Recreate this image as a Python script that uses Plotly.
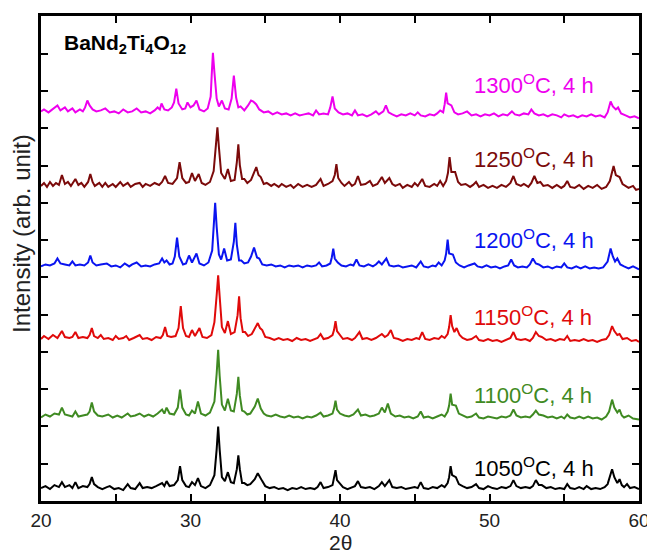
import plotly.graph_objects as go

# ---------------- data (2θ, intensity above own baseline, arb. units) ----------------
pattern_1050 = [(20.0,1),(20.3,3),(20.6,0),(20.9,4),(21.2,2),(21.4,7),(21.6,2),(21.9,4),(22.1,1),(22.3,7),(22.5,1),(22.8,3),(23.1,2),(23.25,5),(23.4,12),(23.55,5),(23.8,2),(24.1,0),(24.4,2),(24.6,3),(24.9,0),(25.2,1),(25.5,-1),(25.8,5),(26.0,1),(26.3,0),(26.6,6),(26.8,1),(27.1,2),(27.4,1),(27.7,3),(28.1,6),(28.25,3),(28.4,8),(28.6,3),(28.9,4),(29.15,9),(29.3,23),(29.45,9),(29.7,3),(29.9,2),(30.1,7),(30.3,4),(30.5,11),(30.7,3),(31.0,1),(31.3,4),(31.6,14),(31.75,40),(31.85,63),(31.95,40),(32.1,12),(32.3,8),(32.5,17),(32.7,7),(32.9,6),(33.1,20),(33.2,34),(33.3,20),(33.45,6),(33.6,6),(33.8,4),(34.0,5),(34.3,10),(34.5,16),(34.7,10),(34.8,8),(35.0,3),(35.3,1),(35.6,2),(35.9,0),(36.2,1),(36.5,-1),(36.8,1),(37.1,0),(37.4,2),(37.7,0),(38.0,1),(38.3,0),(38.5,2),(38.7,7),(38.9,1),(39.2,2),(39.5,4),(39.6,10),(39.7,19),(39.8,9),(40.0,6),(40.2,2),(40.5,0),(40.8,2),(41.0,3),(41.2,8),(41.4,2),(41.7,1),(42.0,2),(42.3,0),(42.6,3),(42.8,7),(43.0,3),(43.3,9),(43.5,2),(43.8,1),(44.1,2),(44.4,0),(44.7,1),(45.0,2),(45.2,1),(45.4,7),(45.6,1),(45.9,0),(46.2,2),(46.5,1),(46.8,4),(47.0,2),(47.2,6),(47.3,12),(47.4,23),(47.5,14),(47.75,12),(47.95,5),(48.2,3),(48.5,1),(48.8,2),(49.1,5),(49.3,1),(49.6,0),(49.9,3),(50.2,1),(50.5,0),(50.8,2),(51.1,1),(51.4,3),(51.6,9),(51.8,3),(52.1,1),(52.4,2),(52.7,1),(52.9,3),(53.1,9),(53.3,4),(53.5,4),(53.8,1),(54.1,2),(54.4,0),(54.7,1),(55.0,0),(55.2,5),(55.4,1),(55.7,0),(56.0,2),(56.3,0),(56.5,3),(56.8,0),(57.1,1),(57.4,0),(57.7,2),(57.9,5),(58.1,14),(58.2,20),(58.35,12),(58.55,6),(58.7,10),(58.85,4),(59.0,2),(59.2,5),(59.4,1),(59.7,2),(60.0,0)]

pattern_1100 = [(20.0,0),(20.3,3),(20.6,1),(20.9,4),(21.2,3),(21.4,10),(21.6,3),(21.9,2),(22.1,1),(22.3,6),(22.5,1),(22.8,2),(23.1,3),(23.25,6),(23.4,15),(23.55,6),(23.8,2),(24.1,1),(24.3,2),(24.5,3),(24.8,0),(25.1,2),(25.4,0),(25.8,4),(26.0,1),(26.3,2),(26.6,4),(26.9,1),(27.2,3),(27.5,1),(27.8,4),(28.1,8),(28.25,4),(28.4,10),(28.6,4),(28.9,3),(29.15,10),(29.3,28),(29.45,10),(29.7,3),(29.9,2),(30.1,7),(30.3,4),(30.5,16),(30.7,4),(31.0,2),(31.3,5),(31.6,16),(31.75,44),(31.85,68),(31.95,42),(32.1,13),(32.3,7),(32.5,19),(32.7,7),(32.9,6),(33.1,24),(33.2,41),(33.3,22),(33.45,7),(33.6,6),(33.8,3),(34.0,4),(34.3,11),(34.5,19),(34.7,9),(34.9,4),(35.1,2),(35.4,1),(35.7,3),(36.0,1),(36.3,0),(36.6,2),(36.9,0),(37.2,1),(37.5,-1),(37.8,1),(38.1,0),(38.4,2),(38.7,5),(38.9,1),(39.2,2),(39.5,4),(39.6,9),(39.7,17),(39.8,8),(40.0,4),(40.3,2),(40.6,1),(40.9,3),(41.2,8),(41.4,2),(41.7,3),(42.0,1),(42.3,2),(42.6,4),(42.8,10),(43.0,5),(43.2,14),(43.4,4),(43.7,1),(44.0,2),(44.3,0),(44.6,1),(44.9,-1),(45.2,1),(45.4,6),(45.6,0),(45.9,1),(46.2,-1),(46.5,1),(46.8,3),(47.0,1),(47.2,6),(47.3,12),(47.4,24),(47.5,13),(47.75,12),(47.95,4),(48.2,2),(48.5,0),(48.8,1),(49.1,4),(49.3,0),(49.6,-1),(49.9,1),(50.2,0),(50.5,-1),(50.8,1),(51.1,0),(51.4,2),(51.6,8),(51.8,2),(52.1,0),(52.4,1),(52.7,0),(52.9,3),(53.1,7),(53.3,3),(53.6,2),(53.9,0),(54.2,1),(54.5,-1),(54.8,1),(55.0,-1),(55.2,3),(55.4,0),(55.7,-1),(56.0,1),(56.3,-1),(56.6,1),(56.9,-1),(57.2,0),(57.5,-2),(57.8,1),(58.0,6),(58.2,18),(58.35,10),(58.55,5),(58.7,8),(58.85,2),(59.0,0),(59.3,2),(59.6,-1),(60.0,-2)]

pattern_1150 = [(20.0,1),(20.2,4),(20.5,1),(20.8,5),(21.1,2),(21.4,9),(21.6,3),(21.9,2),(22.1,3),(22.3,8),(22.5,2),(22.8,3),(23.1,2),(23.25,5),(23.4,12),(23.55,4),(23.8,2),(24.0,5),(24.2,1),(24.5,2),(24.8,0),(25.0,4),(25.2,1),(25.5,2),(25.7,4),(25.9,0),(26.2,2),(26.6,5),(26.8,1),(27.1,2),(27.4,0),(27.7,3),(28.0,2),(28.15,5),(28.3,13),(28.45,4),(28.7,3),(29.0,4),(29.2,12),(29.35,34),(29.5,12),(29.7,4),(29.9,3),(30.1,10),(30.3,4),(30.6,12),(30.8,3),(31.1,2),(31.4,5),(31.6,18),(31.75,45),(31.85,65),(31.95,44),(32.1,13),(32.3,7),(32.5,19),(32.7,6),(32.95,8),(33.15,25),(33.25,44),(33.35,22),(33.5,8),(33.65,8),(33.85,4),(34.1,6),(34.3,12),(34.5,17),(34.65,12),(34.8,10),(35.0,3),(35.3,2),(35.6,0),(35.9,2),(36.2,0),(36.5,1),(36.8,-1),(37.1,2),(37.4,0),(37.7,1),(38.0,-1),(38.3,1),(38.5,2),(38.7,6),(38.9,1),(39.2,2),(39.5,5),(39.6,10),(39.7,19),(39.8,9),(40.0,5),(40.2,1),(40.5,2),(40.8,0),(41.0,2),(41.3,8),(41.5,1),(41.8,2),(42.1,0),(42.4,2),(42.8,6),(43.0,3),(43.2,5),(43.4,10),(43.6,2),(43.9,1),(44.2,-1),(44.5,1),(44.8,0),(45.1,2),(45.3,1),(45.5,8),(45.7,1),(46.0,0),(46.3,2),(46.6,1),(46.8,4),(47.0,2),(47.2,6),(47.3,13),(47.4,25),(47.5,14),(47.65,8),(47.8,12),(48.0,5),(48.2,2),(48.5,0),(48.8,1),(49.1,4),(49.3,0),(49.6,-1),(49.9,1),(50.2,-1),(50.5,0),(50.8,-2),(51.1,0),(51.4,2),(51.6,8),(51.8,1),(52.1,0),(52.4,1),(52.7,-1),(52.9,2),(53.1,8),(53.3,4),(53.5,3),(53.8,0),(54.1,1),(54.4,-1),(54.7,1),(55.0,0),(55.2,4),(55.4,-1),(55.7,0),(56.0,-1),(56.3,1),(56.6,-1),(56.9,0),(57.2,-2),(57.5,0),(57.8,1),(58.0,5),(58.2,14),(58.35,9),(58.55,5),(58.7,6),(58.9,1),(59.2,2),(59.5,-1),(59.8,0),(60.0,-2)]

pattern_1200 = [(20.0,0),(20.3,2),(20.6,1),(20.9,3),(21.1,8),(21.3,3),(21.6,2),(21.9,1),(22.1,5),(22.3,1),(22.6,2),(22.9,1),(23.15,4),(23.3,11),(23.45,4),(23.7,1),(24.0,2),(24.4,3),(24.7,0),(25.0,1),(25.3,-1),(25.6,3),(25.9,0),(26.1,2),(26.4,4),(26.7,0),(27.0,1),(27.3,0),(27.6,2),(27.9,3),(28.1,8),(28.25,4),(28.4,6),(28.6,2),(28.8,3),(28.95,10),(29.1,29),(29.25,10),(29.5,2),(29.7,3),(29.9,11),(30.1,4),(30.4,13),(30.6,3),(30.9,1),(31.2,4),(31.45,16),(31.55,42),(31.65,64),(31.75,40),(31.9,12),(32.05,7),(32.25,18),(32.45,6),(32.7,7),(32.9,25),(33.0,44),(33.1,22),(33.25,6),(33.4,6),(33.6,3),(33.85,4),(34.05,10),(34.25,19),(34.45,9),(34.6,8),(34.8,2),(35.1,1),(35.4,2),(35.7,0),(36.0,1),(36.3,-1),(36.6,1),(36.9,0),(37.2,1),(37.5,-1),(37.8,1),(38.1,0),(38.4,1),(38.6,4),(38.8,0),(39.1,1),(39.35,3),(39.45,9),(39.55,18),(39.65,8),(39.85,4),(40.1,1),(40.4,0),(40.7,2),(40.9,1),(41.1,7),(41.3,1),(41.6,0),(41.9,2),(42.2,0),(42.4,2),(42.6,5),(42.8,2),(43.1,8),(43.3,1),(43.6,0),(43.9,1),(44.2,-1),(44.5,0),(44.8,1),(45.1,-1),(45.4,5),(45.6,0),(45.9,-1),(46.2,1),(46.4,0),(46.6,4),(46.8,1),(47.0,6),(47.1,13),(47.2,27),(47.3,13),(47.55,12),(47.75,4),(48.0,1),(48.3,-1),(48.6,1),(49.0,3),(49.2,0),(49.5,-1),(49.8,1),(50.1,-1),(50.4,0),(50.7,-2),(51.0,0),(51.25,1),(51.45,7),(51.65,1),(51.9,-1),(52.2,0),(52.5,-1),(52.7,2),(52.9,8),(53.1,3),(53.3,2),(53.6,-1),(53.9,0),(54.2,-2),(54.5,0),(54.8,-1),(55.0,3),(55.2,-1),(55.5,-2),(55.8,0),(56.1,-2),(56.4,0),(56.7,-2),(57.0,-1),(57.3,-2),(57.6,-1),(57.9,5),(58.1,18),(58.25,10),(58.4,5),(58.55,8),(58.75,2),(59.0,0),(59.3,-2),(59.6,0),(60.0,-3)]

pattern_1250 = [(20.0,1),(20.2,4),(20.4,0),(20.6,5),(20.8,1),(21.0,4),(21.2,2),(21.4,12),(21.6,3),(21.8,5),(22.0,1),(22.3,8),(22.5,2),(22.7,4),(22.9,0),(23.15,5),(23.3,13),(23.45,5),(23.6,1),(23.9,4),(24.1,0),(24.3,4),(24.5,0),(24.8,3),(25.0,0),(25.3,5),(25.5,1),(25.8,4),(26.0,0),(26.3,3),(26.6,4),(26.8,0),(27.0,3),(27.3,1),(27.6,4),(27.9,2),(28.1,5),(28.3,11),(28.5,4),(28.8,3),(29.1,9),(29.27,25),(29.45,9),(29.7,4),(29.9,5),(30.1,14),(30.3,6),(30.55,13),(30.75,4),(31.0,2),(31.3,5),(31.55,16),(31.7,42),(31.8,60),(31.9,40),(32.05,14),(32.3,8),(32.5,18),(32.7,6),(32.95,7),(33.1,25),(33.2,43),(33.3,22),(33.45,8),(33.6,8),(33.8,4),(34.05,7),(34.25,14),(34.4,20),(34.55,12),(34.7,10),(34.9,3),(35.1,4),(35.4,1),(35.6,3),(35.9,0),(36.1,3),(36.4,0),(36.7,2),(36.9,-1),(37.2,3),(37.5,0),(37.8,2),(38.1,0),(38.4,2),(38.7,8),(38.9,1),(39.2,3),(39.5,6),(39.65,12),(39.76,23),(39.88,9),(40.1,4),(40.3,1),(40.6,5),(40.8,1),(41.0,3),(41.2,11),(41.4,2),(41.7,3),(42.0,6),(42.2,1),(42.5,3),(42.8,10),(43.0,4),(43.3,9),(43.5,3),(43.7,1),(44.0,3),(44.2,-1),(44.5,2),(44.8,0),(45.0,4),(45.2,1),(45.5,8),(45.7,1),(46.0,0),(46.3,3),(46.5,1),(46.7,6),(46.9,1),(47.1,6),(47.22,14),(47.33,30),(47.45,15),(47.7,15),(47.9,5),(48.1,2),(48.4,3),(48.7,0),(48.9,2),(49.1,5),(49.3,0),(49.6,2),(49.9,-1),(50.2,1),(50.5,-1),(50.8,2),(51.1,0),(51.4,4),(51.6,11),(51.8,3),(52.1,1),(52.3,3),(52.6,0),(52.8,4),(53.0,11),(53.2,4),(53.4,5),(53.6,1),(53.9,2),(54.2,-1),(54.5,2),(54.8,-1),(55.0,1),(55.2,6),(55.4,0),(55.7,-1),(56.0,2),(56.3,-2),(56.6,1),(56.9,-1),(57.2,2),(57.5,-2),(57.8,0),(58.05,6),(58.15,12),(58.3,21),(58.45,12),(58.7,10),(58.9,3),(59.1,1),(59.3,-1),(59.6,1),(59.8,-3),(60.0,-2)]

pattern_1300 = [(20.0,1),(20.2,3),(20.5,0),(20.8,4),(21.1,7),(21.3,2),(21.6,5),(21.8,1),(22.1,4),(22.3,0),(22.6,3),(22.8,1),(22.95,5),(23.1,12),(23.25,7),(23.45,3),(23.7,1),(24.0,2),(24.3,4),(24.6,0),(24.9,1),(25.2,-1),(25.5,3),(25.8,0),(26.1,1),(26.4,4),(26.7,0),(27.0,1),(27.3,-1),(27.6,2),(27.8,5),(27.95,3),(28.06,9),(28.25,3),(28.5,2),(28.75,5),(28.9,10),(29.05,24),(29.2,9),(29.45,3),(29.65,4),(29.8,10),(30.0,5),(30.2,7),(30.4,12),(30.6,3),(30.9,1),(31.15,4),(31.35,16),(31.42,38),(31.5,60),(31.6,40),(31.75,14),(31.9,6),(32.1,12),(32.3,4),(32.55,3),(32.75,14),(32.9,37),(33.05,15),(33.2,5),(33.35,6),(33.6,2),(33.85,7),(34.05,12),(34.2,11),(34.4,8),(34.6,3),(34.9,0),(35.2,1),(35.5,-2),(35.8,0),(36.1,-2),(36.4,-1),(36.7,-3),(37.0,-1),(37.3,-3),(37.6,-2),(37.9,-1),(38.2,-3),(38.4,2),(38.6,-2),(38.9,-1),(39.2,-2),(39.35,5),(39.5,16),(39.65,4),(39.9,0),(40.2,-2),(40.5,-1),(40.8,-3),(41.0,2),(41.2,-3),(41.5,-2),(41.8,-4),(42.1,-2),(42.4,1),(42.6,-2),(42.9,1),(43.07,7),(43.25,0),(43.5,-2),(43.8,-4),(44.1,-2),(44.4,-3),(44.7,-1),(45.0,-3),(45.2,0),(45.4,-3),(45.7,-4),(46.0,-2),(46.3,-3),(46.5,-1),(46.7,2),(46.9,0),(47.0,8),(47.1,20),(47.2,9),(47.45,7),(47.65,0),(47.9,-2),(48.2,-1),(48.5,1),(48.8,-3),(49.1,-2),(49.4,-4),(49.7,-2),(50.0,-3),(50.3,-1),(50.6,-4),(50.9,-2),(51.2,-3),(51.5,1),(51.7,-2),(52.0,-3),(52.3,-1),(52.6,-2),(52.8,3),(53.0,-1),(53.3,-3),(53.6,-2),(53.9,-4),(54.2,-2),(54.5,-3),(54.8,-5),(55.0,-2),(55.3,-4),(55.6,-3),(55.9,-5),(56.2,-3),(56.5,-4),(56.8,-2),(57.1,-4),(57.4,-3),(57.7,-5),(57.9,0),(58.1,11),(58.25,6),(58.45,3),(58.6,5),(58.8,-1),(59.1,-3),(59.4,-5),(59.7,-4),(60.0,-6)]

series_labels = ["1050", "1100", "1150", "1200", "1250", "1300"]
series_patterns = [pattern_1050, pattern_1100, pattern_1150, pattern_1200, pattern_1250, pattern_1300]
stack_offsets = [12, 84, 162, 236, 316, 391]
label_y = [34, 108, 186, 264, 345, 420]
colors = ["#000000", "#3f8a22", "#e00a0a", "#0a14f0", "#7b0a0a", "#ee00ee"]
x_ticks = [20, 30, 40, 50, 60]

FONT = "Liberation Sans, Arial, sans-serif"

fig = go.Figure()
for lab, pat, off, col in zip(series_labels, series_patterns, stack_offsets, colors):
    xs = [p[0] for p in pat]
    ys = [p[1] + off for p in pat]
    fig.add_trace(go.Scatter(x=xs, y=ys, mode="lines", name=lab + " °C",
                             line=dict(color=col, width=2), showlegend=False))

for lab, ly, col in zip(series_labels, label_y, colors):
    fig.add_annotation(x=48.86, y=ly, xref="x", yref="y", xanchor="left", yanchor="middle",
                       text=lab + "<sup>O</sup>C, 4 h", showarrow=False,
                       font=dict(family=FONT, size=22, color=col))

fig.add_annotation(x=21.39, y=460, xref="x", yref="y", xanchor="left", yanchor="middle",
                   text="<b>BaNd<sub>2</sub>Ti<sub>4</sub>O<sub>12</sub></b>", showarrow=False,
                   font=dict(family=FONT, size=21, color="black"))

fig.add_annotation(x=-0.0315, y=0.551, xref="paper", yref="paper", xanchor="center", yanchor="middle",
                   text="Intensity (arb. unit)", textangle=-90, showarrow=False,
                   font=dict(family=FONT, size=24, color="#222"))
fig.add_annotation(x=0.5, y=-0.086, xref="paper", yref="paper", xanchor="center", yanchor="middle",
                   text="2θ", showarrow=False,
                   font=dict(family=FONT, size=21, color="#222"))

# the page body keeps the browser's 8 px margin, so the figure is sized to end at the window edges
fig.update_layout(
    width=647, height=543,
    margin=dict(l=33, r=11, t=5, b=50, pad=0),
    paper_bgcolor="white", plot_bgcolor="white",
    xaxis=dict(range=[20, 60], tickvals=x_ticks, ticktext=[str(v) for v in x_ticks],
               showline=True, linecolor="black", linewidth=2.5, mirror="ticks",
               ticks="inside", ticklen=7, tickwidth=2, tickcolor="black",
               minor=dict(dtick=5, tick0=20, ticks="inside", ticklen=7, tickwidth=2, tickcolor="black"),
               showgrid=False, zeroline=False, ticklabelstandoff=0,
               tickfont=dict(family=FONT, size=19, color="#222")),
    yaxis=dict(range=[0, 488], tick0=0, dtick=37.5, showticklabels=False,
               showline=True, linecolor="black", linewidth=2.5, mirror="ticks",
               ticks="inside", ticklen=7, tickwidth=2, tickcolor="black",
               showgrid=False, zeroline=False),
)
fig.write_html("out.html", config={"displayModeBar": False})
